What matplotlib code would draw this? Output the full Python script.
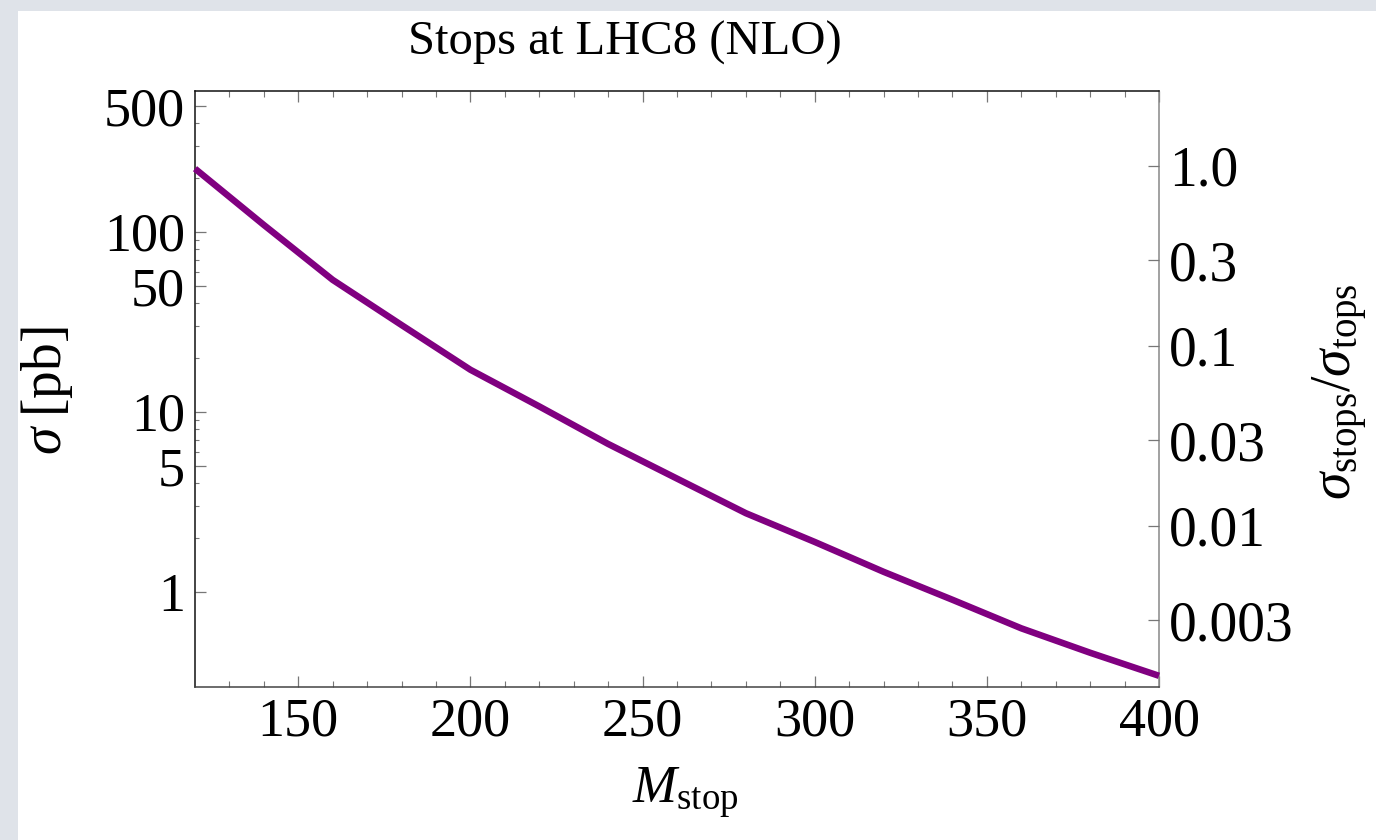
import numpy as np
import matplotlib
matplotlib.use("Agg")
import matplotlib.pyplot as plt
from matplotlib.patches import Rectangle
from matplotlib.ticker import FixedLocator, NullFormatter, NullLocator

# ---- data ----
mass = [120, 140, 160, 180, 200, 220, 240, 260, 280, 300, 320, 340, 360, 380, 400]
sigma_pb = [224, 109, 54.0, 30.3, 17.1, 10.7, 6.62, 4.25, 2.73, 1.89, 1.29, 0.902, 0.626, 0.458, 0.341]
sigma_tops = 232.0

left_ticks = [500, 100, 50, 10, 5, 1]
left_ticklabels = ["500", "100", "50", "10", "5", "1"]
right_ticks = [1.0, 0.3, 0.1, 0.03, 0.01, 0.003]
right_ticklabels = ["1.0", "0.3", "0.1", "0.03", "0.01", "0.003"]
x_ticks = [150, 200, 250, 300, 350, 400]
x_ticklabels = ["150", "200", "250", "300", "350", "400"]

title = "Stops at LHC8 (NLO)"

plt.rcParams['font.family'] = ['Liberation Serif', 'DejaVu Serif']
plt.rcParams['mathtext.fontset'] = 'custom'
plt.rcParams['mathtext.rm'] = 'Liberation Serif'
plt.rcParams['mathtext.it'] = 'Liberation Serif:italic'
plt.rcParams['mathtext.bf'] = 'Liberation Serif:bold'

W, H = 1376, 840
fig = plt.figure(figsize=(W / 100, H / 100), dpi=100)
fig.patch.set_facecolor('#dfe3e9')
bg = Rectangle((18 / W, 0), 1, (H - 11) / H, transform=fig.transFigure,
               facecolor='white', edgecolor='none', zorder=-10)
fig.patches.append(bg)

L, R, T, B = 195, 1159, 91, 687
ax = fig.add_axes([L / W, 1 - B / H, (R - L) / W, (B - T) / H])
ax.set_facecolor('white')
ax.set_yscale('log')
ax.set_xlim(120, 400)
ax.set_ylim(0.2955, 605)

ax.plot(mass, sigma_pb, color='#800080', lw=4.7, solid_capstyle='butt', clip_on=False, zorder=3)

# left axis ticks
ax.yaxis.set_major_locator(FixedLocator(left_ticks))
ax.set_yticklabels(left_ticklabels)
minor_y = [m * d for d in (1, 10, 100) for m in range(2, 10) if 1 < m * d < 600 and m * d not in left_ticks]
ax.yaxis.set_minor_locator(FixedLocator(minor_y))
ax.yaxis.set_minor_formatter(NullFormatter())
ax.tick_params(axis='y', which='major', direction='in', length=8, width=0.9, color='#777777',
               labelsize=39, pad=7, left=True, right=False)
ax.tick_params(axis='y', which='minor', direction='in', length=2.6, width=0.8, color='#777777',
               left=True, right=False)

# x axis ticks
ax.xaxis.set_major_locator(FixedLocator(x_ticks))
ax.set_xticklabels(x_ticklabels)
ax.xaxis.set_minor_locator(FixedLocator([m for m in range(130, 400, 10) if m % 50 != 0]))
ax.tick_params(axis='x', which='major', direction='in', length=7.7, width=0.9, color='#777777',
               labelsize=39, pad=7, top=True, bottom=True)
ax.tick_params(axis='x', which='minor', direction='in', length=4.5, width=0.8, color='#777777',
               top=True, bottom=True)

for s, c in (('left', '#111111'), ('top', '#111111'), ('bottom', '#444444'), ('right', '#888888')):
    ax.spines[s].set_color(c)
    ax.spines[s].set_linewidth(1.1)

# right axis (ratio)
ax2 = ax.twinx()
ax2.set_yscale('log')
lo, hi = ax.get_ylim()
ax2.set_ylim(lo / sigma_tops, hi / sigma_tops)
ax2.yaxis.set_major_locator(FixedLocator(right_ticks))
ax2.set_yticklabels(right_ticklabels)
ax2.yaxis.set_minor_locator(NullLocator())
ax2.tick_params(axis='y', which='major', direction='in', length=8, width=0.9, color='#777777',
                labelsize=40, pad=7)
for s in ax2.spines.values():
    s.set_visible(False)

# labels
fig.text(625 / W, 1 - 55 / H, title, ha='center', va='baseline', fontsize=35)
fig.text(47 / W, 1 - 391 / H, r'$\sigma\;$[pb]', rotation=90, ha='center', va='center', fontsize=40)
fig.text(1340 / W, 1 - 392 / H, r'$\sigma_{\rm stops}/\sigma_{\rm tops}$', rotation=90,
         ha='center', va='center', fontsize=40)
fig.text(685 / W, 1 - 803 / H, r'$M_{\rm stop}$', ha='center', va='baseline', fontsize=38)

fig.savefig('out.png', dpi=100, facecolor=fig.get_facecolor())
